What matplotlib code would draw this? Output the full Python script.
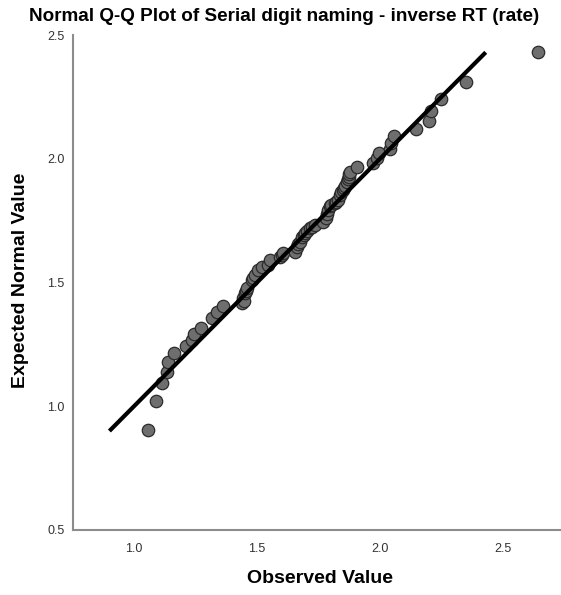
import numpy as np
import matplotlib.pyplot as plt

plt.rcParams['font.family'] = ['Liberation Sans', 'DejaVu Sans']

observed = [1.058, 1.089, 1.113, 1.133, 1.139, 1.164, 1.211, 1.234, 1.245, 1.272,
            1.316, 1.336, 1.363, 1.438, 1.444, 1.447, 1.451, 1.455, 1.458, 1.478,
            1.485, 1.492, 1.505, 1.520, 1.546, 1.553, 1.593, 1.600, 1.607, 1.654,
            1.661, 1.668, 1.675, 1.682, 1.690, 1.695, 1.705, 1.715, 1.725, 1.736,
            1.770, 1.780, 1.785, 1.790, 1.797, 1.802, 1.817, 1.823, 1.830, 1.837,
            1.843, 1.848, 1.853, 1.858, 1.865, 1.870, 1.875, 1.875, 1.878, 1.905,
            1.973, 1.989, 1.997, 2.041, 2.045, 2.057, 2.146, 2.198, 2.206, 2.247,
            2.348, 2.641]
expected = [0.904, 1.022, 1.093, 1.140, 1.180, 1.214, 1.245, 1.268, 1.292, 1.315,
            1.355, 1.382, 1.405, 1.416, 1.436, 1.426, 1.456, 1.466, 1.477, 1.510,
            1.520, 1.530, 1.551, 1.561, 1.571, 1.591, 1.604, 1.611, 1.618, 1.624,
            1.645, 1.655, 1.665, 1.685, 1.692, 1.699, 1.709, 1.719, 1.726, 1.732,
            1.746, 1.760, 1.776, 1.793, 1.809, 1.815, 1.820, 1.827, 1.833, 1.854,
            1.864, 1.874, 1.882, 1.890, 1.907, 1.917, 1.927, 1.938, 1.948, 1.965,
            1.984, 2.002, 2.022, 2.038, 2.065, 2.092, 2.119, 2.153, 2.192, 2.240,
            2.309, 2.430]

# reference line y = x
line_range = [0.9, 2.43]

x_ticks = [1.0, 1.5, 2.0, 2.5]
y_ticks = [0.5, 1.0, 1.5, 2.0, 2.5]

fig = plt.figure(figsize=(5.61, 5.95), dpi=100)
ax = fig.add_axes([73 / 561, 65 / 595, (561 - 73) / 561, 495 / 595])

ax.plot(line_range, line_range, color='black', linewidth=3, solid_capstyle='butt', zorder=3)
ax.scatter(observed, expected, s=80, facecolor='#6e6e6e', edgecolor='#2b2b2b',
           linewidth=0.9, zorder=2)

ax.set_xlim(0.752, 2.736)
ax.set_ylim(0.5, 2.5)
ax.set_xticks(x_ticks)
ax.set_yticks(y_ticks)
ax.set_xticklabels(['%.1f' % t for t in x_ticks])
ax.set_yticklabels(['%.1f' % t for t in y_ticks])
ax.tick_params(length=0, labelsize=9, labelcolor='#333333')
ax.tick_params(axis='x', pad=9)
ax.tick_params(axis='y', pad=6)

for side in ['top', 'right']:
    ax.spines[side].set_visible(False)
for side in ['left', 'bottom']:
    ax.spines[side].set_color('#8c8c8c')
    ax.spines[side].set_linewidth(1.5)

fig.text(0.570, 0.027, 'Observed Value', ha='center', va='center',
         fontsize=14, fontweight='bold')
fig.text(0.036, 0.529, 'Expected Normal Value', ha='center', va='center',
         rotation=90, fontsize=14, fontweight='bold')
fig.text(0.506, 0.972, 'Normal Q-Q Plot of Serial digit naming - inverse RT (rate)',
         ha='center', va='center', fontsize=13.6, fontweight='bold')

fig.savefig('out.png', dpi=100)
